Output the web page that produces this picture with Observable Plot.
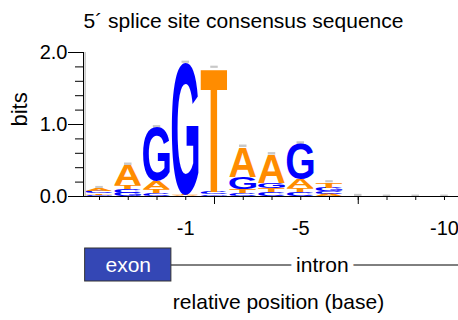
<!DOCTYPE html>
<html><head><meta charset="utf-8">
<script src="https://cdn.jsdelivr.net/npm/d3@7"></script>
<script src="https://cdn.jsdelivr.net/npm/@observablehq/plot@0.6"></script>
<style>
html,body{margin:0;padding:0;background:#fff;}
body{width:458px;height:320px;overflow:hidden;font-family:"Liberation Sans",Arial,sans-serif;color:#000;}
#title{height:36px;line-height:41px;font-size:21px;text-align:center;padding-left:29px;white-space:nowrap;}
#main svg,#track svg{display:block;}
#xlabel{margin-top:5px;line-height:30px;font-size:21px;text-align:center;padding-left:99px;white-space:nowrap;}
</style></head><body>
<div id="title">5´ splice site consensus sequence</div>
<div id="main"></div>
<div id="track"></div>
<div id="xlabel">relative position (base)</div>
<script>
// ---- data (bits per letter per column) ----
const columns = [1, 2, 3, 4, 5, 6, 7, 8, 9, 10, 11, 12, 13];
const bitsA = [0.040, 0.280, 0.110, 0.010, 0.005, 0.420, 0.400, 0.120, 0.030, 0, 0, 0, 0];
const bitsC = [0.035, 0.050, 0.040, 0.000, 0.030, 0.040, 0.050, 0.050, 0.040, 0, 0, 0, 0];
const bitsG = [0.015, 0.045, 0.740, 1.830, 0.025, 0.170, 0.065, 0.500, 0.045, 0, 0, 0, 0];
const bitsT = [0.020, 0.055, 0.060, 0.010, 1.720, 0.050, 0.060, 0.055, 0.075, 0, 0, 0, 0];
const errorBits = [0.03, 0.035, 0.035, 0.03, 0.03, 0.035, 0.035, 0.035, 0.03, 0.03, 0.02, 0.02, 0.02];
const letterColors = {A: "#ff8c00", T: "#ff8c00", C: "#0000ff", G: "#0000ff"};
const tickColumns = [4, 8, 13];
const tickLabels = ["-1", "-5", "-10"];
const majorTickColumns = [5, 10];
const yMinorTicks = [0, 0.2, 0.4, 0.6, 0.8, 1, 1.2, 1.4, 1.6, 1.8, 2];
const yMajorTicks = [0, 1, 2];
const regionNames = ["exon", "intron"];
const regionStart = [0.5, 3.5];
const regionEnd = [3.5, 13.5];
const intronLabelAt = 8.75;

// ---- build stacked rows (smallest letter at the bottom) ----
const bitsBy = {A: bitsA, C: bitsC, G: bitsG, T: bitsT};
const letterRows = [];
const totals = [];
columns.forEach((c, i) => {
  const items = Object.keys(bitsBy).map(l => ({letter: l, bits: bitsBy[l][i]})).filter(d => d.bits > 0);
  items.sort((a, b) => a.bits - b.bits);
  let acc = 0;
  for (const it of items) {
    letterRows.push({pos: c, letter: it.letter, y1: acc, y2: acc + it.bits});
    acc += it.bits;
  }
  totals.push(acc);
});
const errorRows = columns.map((c, i) => ({pos: c, y1: totals[i], y2: totals[i] + errorBits[i]}));

const xDomain = [columns[0] - 0.557, columns[columns.length - 1] + 0.487];
const FONT = "Liberation Sans, Arial, sans-serif";
const halfW = 0.465;

const main = Plot.plot({
  width: 458, height: 211,
  marginLeft: 83, marginRight: 0, marginTop: 16, marginBottom: 51,
  style: {fontFamily: FONT, fontSize: "20px", color: "#000", background: "transparent", overflow: "visible"},
  x: {domain: xDomain, axis: null},
  y: {domain: [0, 2], axis: null},
  marks: [
    Plot.ruleX([columns[0] - 0.5], {y1: 0, y2: 2, stroke: "#b8b8b8", strokeWidth: 1.2}),
    Plot.rect(errorRows, {x1: d => d.pos - 0.13, x2: d => d.pos + 0.13, y1: "y1", y2: "y2", fill: "#c8c8c8"}),
    Plot.text(letterRows, {x: "pos", y: "y1", text: "letter", fill: d => letterColors[d.letter], fontSize: 13}),
    Plot.axisY({ticks: yMinorTicks, tickSize: 8, tickFormat: () => "", label: null}),
    Plot.axisY({ticks: yMajorTicks, tickSize: 15, tickPadding: 1, tickFormat: d3.format(".1f"), label: null, fontSize: 20}),
    Plot.axisX({ticks: columns, tickSize: 4, tickFormat: () => "", label: null}),
    Plot.axisX({ticks: majorTickColumns, tickSize: 8, tickFormat: () => "", label: null}),
    Plot.axisX({ticks: tickColumns, tickSize: 0, tickPadding: 24, tickFormat: d => tickLabels[tickColumns.indexOf(d)], label: null, fontSize: 20}),
    Plot.frame({anchor: "left", stroke: "#000"}),
    Plot.frame({anchor: "bottom", stroke: "#000"}),
    Plot.text(["bits"], {frameAnchor: "left", rotate: -90, dx: -64, dy: 2, fontSize: 22})
  ]
});
document.getElementById("main").append(main);

// stretch each letter glyph to fill its stacked cell (positions from Plot's scales)
const sx = main.scale("x"), sy = main.scale("y");
const ctx = document.createElement("canvas").getContext("2d");
ctx.font = `bold 100px "Liberation Sans"`;
let letterGroup = null;
for (const g of main.querySelectorAll("g")) {
  const kids = Array.from(g.children);
  if (kids.length === letterRows.length && kids.every((t, k) => t.tagName.toLowerCase() === "text" && t.textContent === letterRows[k].letter)) {
    letterGroup = g; break;
  }
}
if (letterGroup) {
  letterGroup.setAttribute("font-size", "100");
  letterGroup.setAttribute("font-weight", "bold");
  letterGroup.setAttribute("font-family", "Liberation Sans");
  letterGroup.setAttribute("text-anchor", "start");
  letterGroup.removeAttribute("transform");
  Array.from(letterGroup.children).forEach((t, k) => {
    const d = letterRows[k];
    const m = ctx.measureText(d.letter);
    const L = m.actualBoundingBoxLeft, R = m.actualBoundingBoxRight;
    const A = m.actualBoundingBoxAscent, D = m.actualBoundingBoxDescent;
    const x0 = sx.apply(d.pos - halfW), x1 = sx.apply(d.pos + halfW);
    const yTop = sy.apply(d.y2), yBot = sy.apply(d.y1);
    const scx = (x1 - x0) / (L + R), scy = (yBot - yTop) / (A + D);
    t.removeAttribute("dy"); t.removeAttribute("x"); t.removeAttribute("y");
    t.setAttribute("font-size", "100");
    t.setAttribute("text-anchor", "start");
    t.setAttribute("transform", `translate(${x0},${yTop}) scale(${scx},${scy}) translate(${L},${A})`);
  });
}

const track = Plot.plot({
  width: 458, height: 35,
  marginLeft: 83, marginRight: 0, marginTop: 1, marginBottom: 1,
  style: {fontFamily: FONT, fontSize: "21px", color: "#000", background: "transparent", overflow: "visible"},
  x: {domain: xDomain, axis: null},
  y: {domain: [-1, 1], axis: null},
  marks: [
    Plot.ruleY([0], {x1: regionStart[1], x2: xDomain[1], stroke: "#000", strokeWidth: 1}),
    Plot.rect([0], {x1: regionStart[0], x2: regionEnd[0], y1: -1, y2: 1, fill: "#3447b5", stroke: "#333", strokeWidth: 1}),
    Plot.text([regionNames[0]], {x: (regionStart[0] + regionEnd[0]) / 2, y: 0, fill: "#fff", fontSize: 21}),
    Plot.text([regionNames[1]], {x: intronLabelAt, y: 0, fill: "#000", stroke: "#fff", strokeWidth: 12, fontSize: 21})
  ]
});
document.getElementById("track").append(track);
</script>
</body></html>
